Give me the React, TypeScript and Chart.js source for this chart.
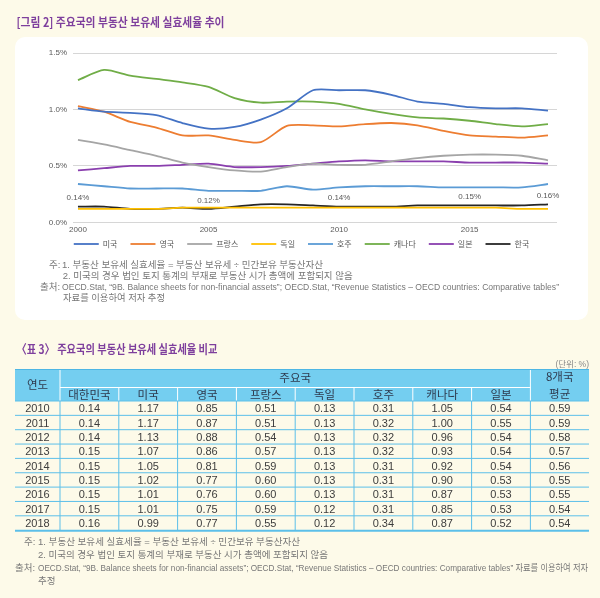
import React, { useEffect, useRef } from "react";
import { Chart, registerables } from "chart.js";

Chart.register(...registerables);

// ---------- chart data ----------
const years = [2000, 2001, 2002, 2003, 2004, 2005, 2006, 2007, 2008, 2009, 2010, 2011, 2012, 2013, 2014, 2015, 2016, 2017, 2018];
const usa = [1.01, 0.98, 0.97, 0.95, 0.88, 0.83, 0.845, 0.91, 1.01, 1.17, 1.17, 1.17, 1.13, 1.07, 1.05, 1.02, 1.01, 1.01, 0.99];
const uk = [1.03, 0.98, 0.89, 0.84, 0.77, 0.77, 0.73, 0.71, 0.855, 0.86, 0.85, 0.87, 0.88, 0.86, 0.81, 0.77, 0.76, 0.75, 0.77];
const france = [0.73, 0.69, 0.64, 0.59, 0.53, 0.49, 0.46, 0.45, 0.49, 0.52, 0.51, 0.51, 0.54, 0.57, 0.59, 0.6, 0.6, 0.59, 0.55];
const germany = [0.12, 0.12, 0.12, 0.12, 0.13, 0.13, 0.13, 0.13, 0.13, 0.13, 0.13, 0.13, 0.13, 0.13, 0.13, 0.13, 0.13, 0.12, 0.12];
const australia = [0.34, 0.32, 0.3, 0.3, 0.3, 0.28, 0.28, 0.28, 0.32, 0.29, 0.31, 0.32, 0.32, 0.32, 0.31, 0.31, 0.31, 0.31, 0.34];
const canada = [1.26, 1.35, 1.3, 1.27, 1.24, 1.2, 1.1, 1.06, 1.07, 1.07, 1.05, 1.0, 0.96, 0.93, 0.92, 0.9, 0.87, 0.85, 0.87];
const japan = [0.46, 0.48, 0.5, 0.5, 0.51, 0.52, 0.49, 0.49, 0.5, 0.52, 0.54, 0.55, 0.54, 0.54, 0.54, 0.53, 0.53, 0.53, 0.52];
const korea = [0.14, 0.14, 0.12, 0.12, 0.13, 0.12, 0.14, 0.16, 0.16, 0.15, 0.14, 0.14, 0.14, 0.15, 0.15, 0.15, 0.15, 0.15, 0.16];

const seriesNames = ["미국", "영국", "프랑스", "독일", "호주", "캐나다", "일본", "한국"];
const seriesValues = [usa, uk, france, germany, australia, canada, japan, korea];
const seriesColors = ["#4472c4", "#ed7d31", "#a5a5a5", "#ffc000", "#5b9bd5", "#70ad47", "#8a3fae", "#262626"];

const xTickYears = [2000, 2005, 2010, 2015];
const yTickValues = [0, 0.5, 1.0, 1.5];
const koreaLabelYears = [2000, 2005, 2010, 2015, 2018];

// ---------- table data ----------
const tableYears = [2010, 2011, 2012, 2013, 2014, 2015, 2016, 2017, 2018];
const tableCountries = ["대한민국", "미국", "영국", "프랑스", "독일", "호주", "캐나다", "일본"];
const tableSeries = [korea, usa, uk, france, germany, australia, canada, japan];
const avg8 = [0.59, 0.59, 0.58, 0.57, 0.56, 0.55, 0.55, 0.54, 0.54];

const FONT = "'Liberation Sans', 'Noto Sans CJK KR', sans-serif";
const KFONT = "'Noto Sans CJK KR', 'Liberation Sans', sans-serif";

const CANVAS_H = 232;
const LEGEND_CENTER = 207; // desired legend row centre inside the canvas

const koreaLabelPlugin = {
  id: "koreaLabels",
  afterDatasetsDraw(chart: any) {
    const idx = chart.data.datasets.findIndex((d: any) => d.label === "한국");
    if (idx < 0) return;
    const meta = chart.getDatasetMeta(idx);
    const ctx = chart.ctx;
    ctx.save();
    ctx.font = `8px ${FONT}`;
    ctx.fillStyle = "#595959";
    ctx.textAlign = "center";
    ctx.textBaseline = "middle";
    koreaLabelYears.forEach((yr) => {
      const i = years.indexOf(yr);
      const pt = meta.data[i];
      if (pt) ctx.fillText(korea[i].toFixed(2) + "%", pt.x, pt.y - 8.5);
    });
    ctx.restore();
  },
};

const legendShiftPlugin = {
  id: "legendShift",
  afterLayout(chart: any) {
    const lg = chart.legend;
    if (!lg) return;
    const pad = lg.options.labels.padding;
    const fs = lg.options.labels.font.size;
    const cur = lg.top + pad + fs / 2;
    const d = cur - LEGEND_CENTER;
    lg.top -= d;
    lg.bottom -= d;
  },
};

function LineChart() {
  const ref = useRef<HTMLCanvasElement | null>(null);
  useEffect(() => {
    if (!ref.current) return;
    const chart = new Chart(ref.current, {
      type: "line",
      data: {
        datasets: seriesNames.map((name, k) => ({
          label: name,
          data: years.map((x, i) => ({ x, y: seriesValues[k][i] })),
          borderColor: seriesColors[k],
          backgroundColor: seriesColors[k],
          borderWidth: 1.8,
          pointRadius: 0,
          pointHoverRadius: 0,
          tension: 0.25,
          fill: false,
        })),
      },
      options: {
        responsive: false,
        animation: false,
        devicePixelRatio: 1,
        layout: { padding: { top: 16, left: 0, right: 0, bottom: 0 } },
        plugins: {
          legend: {
            position: "bottom",
            labels: {
              usePointStyle: true,
              pointStyle: "line",
              pointStyleWidth: 25,
              padding: 13,
              color: "#595959",
              font: { size: 8, family: KFONT },
            },
          },
          tooltip: { enabled: false },
        },
        scales: {
          x: {
            type: "linear",
            min: 1999.81,
            max: 2018.345,
            afterBuildTicks: (s: any) => {
              s.ticks = xTickYears.map((v) => ({ value: v }));
            },
            ticks: {
              callback: (v: any) => String(v),
              color: "#595959",
              font: { size: 8, family: FONT },
              padding: 3,
              maxRotation: 0,
              autoSkip: false,
            },
            grid: { display: false, drawTicks: false },
            border: { display: false },
          },
          y: {
            min: 0,
            max: 1.5,
            afterBuildTicks: (s: any) => {
              s.ticks = yTickValues.map((v) => ({ value: v }));
            },
            afterFit: (s: any) => {
              s.width = 58;
            },
            ticks: {
              callback: (v: any) => Number(v).toFixed(1) + "%",
              color: "#595959",
              font: { size: 8, family: FONT },
              padding: 6,
            },
            grid: { color: "#d6d6d6", lineWidth: 1, drawTicks: false },
            border: { display: false },
          },
          yR: {
            position: "right",
            display: true,
            afterFit: (s: any) => {
              s.width = 31;
            },
            ticks: { display: false },
            grid: { display: false, drawTicks: false },
            border: { display: false },
          },
        },
      } as any,
      plugins: [koreaLabelPlugin, legendShiftPlugin],
    });
    return () => chart.destroy();
  }, []);
  return <canvas ref={ref} width={573} height={CANVAS_H} style={{ width: 573, height: CANVAS_H, display: "block" }} />;
}

function T(props: any) {
  const { x, y, children, size = 9.5, fill = "#777", anchor = "start", weight = "normal", len, family = FONT } = props;
  const extra: any = {};
  if (len) {
    extra.textLength = len;
    extra.lengthAdjust = "spacingAndGlyphs";
  }
  return (
    <text x={x} y={y} fontSize={size} fill={fill} textAnchor={anchor} fontWeight={weight} fontFamily={family} dominantBaseline="central" {...extra}>
      {children}
    </text>
  );
}

export default function App() {
  const colX: number[] = [15, 60];
  for (let i = 0; i < 8; i++) colX.push(60 + 58.8 * (i + 1));
  colX[colX.length - 1] = 530.4;
  colX.push(589);
  const rowTop = 401;
  const rowH = 14.35;
  const cx = (c: number) => (colX[c] + colX[c + 1]) / 2;
  const headColor = "#2e3a4e";
  const bodyColor = "#3d3d3d";
  const lineBlue = "#5cbfe9";

  return (
    <div style={{ position: "absolute", left: 0, top: 0, width: 600, height: 598, background: "#fdfae9", overflow: "hidden" }}>
      <div style={{ position: "absolute", left: 15, top: 37, width: 573, height: 283, background: "#ffffff", borderRadius: 10 }} />
      <div style={{ position: "absolute", left: 15, top: 37, width: 573, height: CANVAS_H }}>
        <LineChart />
      </div>
      <svg width={600} height={598} style={{ position: "absolute", left: 0, top: 0, pointerEvents: "none" }}>
        <T x={16.5} y={21.7} size={12.5} fill="#7e3f9d" weight="bold" len={208} family={KFONT}>
          [그림 2] 주요국의 부동산 보유세 실효세율 추이
        </T>

        {/* chart notes */}
        <T x={49} y={264}>주:</T>
        <T x={62} y={264} len={261}>1. 부동산 보유세 실효세율 = 부동산 보유세 ÷ 민간보유 부동산자산</T>
        <T x={62.7} y={275} len={290}>2. 미국의 경우 법인 토지 통계의 부재로 부동산 시가 총액에 포함되지 않음</T>
        <T x={40} y={286}>출처:</T>
        <T x={62} y={286} len={497}>OECD.Stat, “9B. Balance sheets for non-financial assets”; OECD.Stat, “Revenue Statistics – OECD countries: Comparative tables”</T>
        <T x={63} y={297} len={102}>자료를 이용하여 저자 추정</T>

        {/* table title */}
        <T x={16.5} y={348} size={12.5} fill="#7e3f9d" weight="bold" len={201} family={KFONT}>
          〈표 3〉 주요국의 부동산 보유세 실효세율 비교
        </T>
        <T x={589} y={364} size={8.5} fill="#888" anchor="end">(단위: %)</T>

        {/* table header */}
        <rect x={15} y={369} width={574} height={32} fill="#74cef0" />
        <line x1={15} x2={589} y1={369.5} y2={369.5} stroke="#4db6e4" strokeWidth={1} />
        <line x1={colX[1]} x2={colX[9]} y1={387.5} y2={387.5} stroke="#ffffff" strokeWidth={1} />
        <line x1={colX[1]} x2={colX[1]} y1={370} y2={401} stroke="#ffffff" strokeWidth={1} />
        <line x1={colX[9]} x2={colX[9]} y1={370} y2={401} stroke="#ffffff" strokeWidth={1} />
        {colX.slice(2, 9).map((x, i) => (
          <line key={"hv" + i} x1={x} x2={x} y1={388} y2={401} stroke="#ffffff" strokeWidth={1} />
        ))}
        <T x={cx(0)} y={384} size={11.5} fill={headColor} anchor="middle" family={KFONT}>연도</T>
        <T x={(colX[1] + colX[9]) / 2} y={377} size={11.5} fill={headColor} anchor="middle" family={KFONT}>주요국</T>
        {tableCountries.map((c, i) => (
          <T key={"hc" + i} x={cx(i + 1)} y={394} size={11.5} fill={headColor} anchor="middle" family={KFONT}>
            {c}
          </T>
        ))}
        <T x={cx(9)} y={376} size={11.5} fill={headColor} anchor="middle" family={KFONT}>8개국</T>
        <T x={cx(9)} y={392.5} size={11.5} fill={headColor} anchor="middle" family={KFONT}>평균</T>

        {/* table body */}
        {tableYears.map((yr, r) => {
          const yc = rowTop + (r + 0.5) * rowH;
          const si = years.indexOf(yr);
          return (
            <g key={"r" + yr}>
              <T x={cx(0)} y={yc} size={11} fill={bodyColor} anchor="middle">{String(yr)}</T>
              {tableSeries.map((s, c) => (
                <T key={"v" + c} x={cx(c + 1)} y={yc} size={11} fill={bodyColor} anchor="middle">
                  {s[si].toFixed(2)}
                </T>
              ))}
              <T x={cx(9)} y={yc} size={11} fill={bodyColor} anchor="middle">{avg8[r].toFixed(2)}</T>
            </g>
          );
        })}
        {tableYears.map((_, r) => (
          <line key={"hl" + r} x1={15} x2={589} y1={rowTop + r * rowH} y2={rowTop + r * rowH} stroke={lineBlue} strokeWidth={1} />
        ))}
        <line x1={15} x2={589} y1={rowTop + tableYears.length * rowH + 0.5} y2={rowTop + tableYears.length * rowH + 0.5} stroke={lineBlue} strokeWidth={2} />
        {colX.slice(1, 10).map((x, i) => (
          <line key={"bv" + i} x1={x} x2={x} y1={rowTop} y2={rowTop + tableYears.length * rowH} stroke={lineBlue} strokeWidth={1} />
        ))}

        {/* table notes */}
        <T x={24} y={541}>주:</T>
        <T x={38} y={541} len={262}>1. 부동산 보유세 실효세율 = 부동산 보유세 ÷ 민간보유 부동산자산</T>
        <T x={38} y={554} len={290}>2. 미국의 경우 법인 토지 통계의 부재로 부동산 시가 총액에 포함되지 않음</T>
        <T x={15} y={567}>출처:</T>
        <T x={38} y={567} len={550}>OECD.Stat, “9B. Balance sheets for non-financial assets”; OECD.Stat, “Revenue Statistics – OECD countries: Comparative tables” 자료를 이용하여 저자</T>
        <T x={38} y={580}>추정</T>
      </svg>
    </div>
  );
}
